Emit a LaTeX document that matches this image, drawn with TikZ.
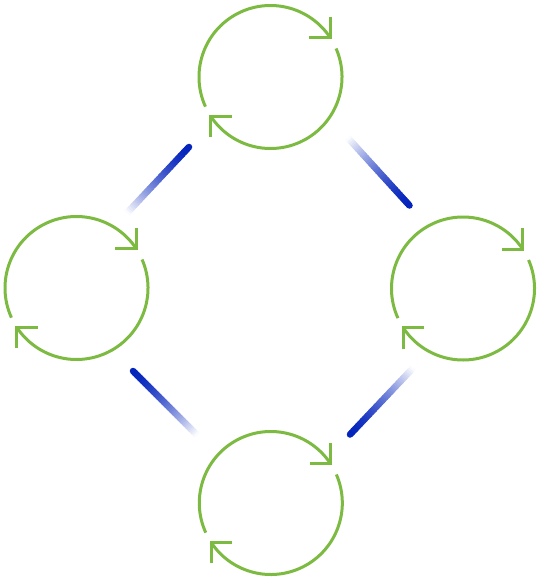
\documentclass[tikz,border=0pt]{standalone}
\usetikzlibrary{calc}
\definecolor{cgreen}{RGB}{124,186,66}
\definecolor{cblue}{RGB}{4,36,188}
\tikzset{
  ringarc/.style={draw=cgreen,line width=3pt,line cap=butt,line join=miter},
  ringnode/.style={circle,minimum size=143pt,inner sep=0pt,draw=none},
}
\begin{document}
\begin{tikzpicture}[x=1pt,y=1pt]
\useasboundingbox[fill=white] (0,0) rectangle (540,-580);
% circle centres
\node[ringnode] (ct) at (270.5,-77) {};
\node[ringnode] (cl) at (76.5,-288) {};
\node[ringnode] (cr) at (463,-288.5) {};
\node[ringnode] (cb) at (270.8,-503) {};
% rings with open corner arrowheads
\foreach \c in {ct,cl,cr,cb}{
  \draw[ringarc] ($(\c)+(204.5:71.5)$) arc[start angle=204.5,end angle=33.3,radius=71.5];
  \draw[ringarc] ($(\c)+(33.3:71.5)+(-21,0)$) -- ($(\c)+(33.3:71.5)$) -- ++(0,21);
  \draw[ringarc] ($(\c)+(23.5:71.5)$) arc[start angle=23.5,end angle=-146.7,radius=71.5];
  \draw[ringarc] ($(\c)+(213.3:71.5)+(21,0)$) -- ($(\c)+(213.3:71.5)$) -- ++(0,-21);
}
% gradient connectors: (solid end) -> (faded end)
\coordinate (s1) at (189,-147);   \coordinate (f1) at (127,-213);
\coordinate (s2) at (409.5,-205.5); \coordinate (f2) at (348,-138);
\coordinate (s3) at (350,-434.5); \coordinate (f3) at (413,-368);
\coordinate (s4) at (133,-371);   \coordinate (f4) at (197,-435);
\foreach \s/\f in {s1/f1,s2/f2,s3/f3,s4/f4}{
  \foreach \i in {0,...,39}{
    \pgfmathsetmacro{\ta}{\i/40}
    \pgfmathsetmacro{\tb}{min(1,(\i+1.6)/40)}
    \pgfmathsetmacro{\pc}{100*(1-((\i+0.5)/40)^1.6)}
    \colorlet{segc}{cblue!\pc!white}
    \draw[segc,line width=6.5pt,line cap=butt] ($(\s)!\ta!(\f)$) -- ($(\s)!\tb!(\f)$);
  }
  \fill[cblue] (\s) circle[radius=3.25pt];
}
\end{tikzpicture}
\end{document}
